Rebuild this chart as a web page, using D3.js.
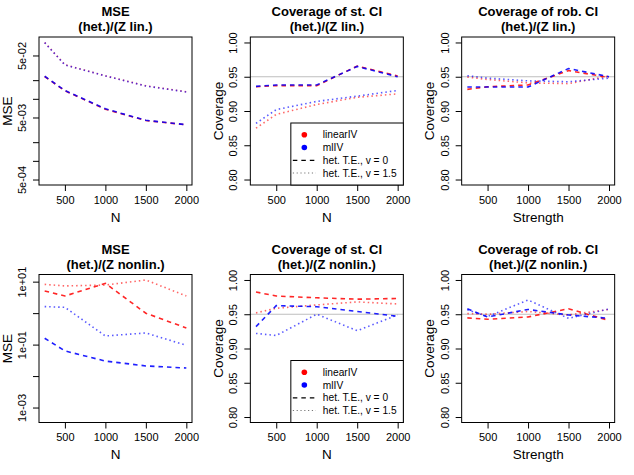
<!DOCTYPE html>
<html><head><meta charset="utf-8">
<script src="https://cdn.jsdelivr.net/npm/d3@7"></script>
<style>body{margin:0;background:#fff}svg{display:block}text{font-family:"Liberation Sans",Arial,sans-serif}</style>
</head><body><svg id="c" width="634" height="475"></svg>
<script>
const N = [250, 500, 1000, 1500, 2000];
const xTicks = [500, 1000, 1500, 2000];
const seriesNames = ["linearIV", "mlIV"];
const legendLabels = ["linearIV", "mlIV", "het. T.E., v = 0", "het. T.E., v = 1.5"];

// Panel 1: MSE, Z lin.
const mseLin_lin_v0  = [0.0229, 0.0135, 0.0068, 0.00447, 0.00381];
const mseLin_lin_v15 = [0.081, 0.0354, 0.0235, 0.0162, 0.013];
const mseLin_ml_v0   = [0.0231, 0.0136, 0.0069, 0.00450, 0.00383];
const mseLin_ml_v15  = [0.0805, 0.0352, 0.0234, 0.0161, 0.0129];
// Panel 2: coverage st. CI, Z lin.
const stLin_lin_v0  = [0.9354, 0.937, 0.937, 0.9656, 0.951];
const stLin_lin_v15 = [0.875, 0.895, 0.9095, 0.920, 0.925];
const stLin_ml_v0   = [0.936, 0.938, 0.938, 0.965, 0.950];
const stLin_ml_v15  = [0.882, 0.902, 0.914, 0.9217, 0.930];
// Panel 3: coverage rob. CI, Z lin.
const robLin_lin_v0  = [0.9315, 0.9354, 0.938, 0.959, 0.949];
const robLin_lin_v15 = [0.9495, 0.946, 0.941, 0.940, 0.951];
const robLin_ml_v0   = [0.935, 0.935, 0.935, 0.962, 0.950];
const robLin_ml_v15  = [0.9515, 0.948, 0.944, 0.9427, 0.948];
// Panel 4: MSE, Z nonlin.
const mseNon_lin_v0  = [5.06, 3.5, 8.85, 0.99, 0.339];
const mseNon_lin_v15 = [8.2, 7.3, 7.8, 11.3, 3.5];
const mseNon_ml_v0   = [0.159, 0.063, 0.030, 0.021, 0.018];
const mseNon_ml_v15  = [1.61, 1.53, 0.188, 0.234, 0.095];
// Panel 5: coverage st. CI, Z nonlin.
const stNon_lin_v0  = [0.9824, 0.9766, 0.974, 0.972, 0.973];
const stNon_lin_v15 = [0.952, 0.9587, 0.9636, 0.968, 0.965];
const stNon_ml_v0   = [0.932, 0.9626, 0.961, 0.954, 0.947];
const stNon_ml_v15  = [0.922, 0.919, 0.950, 0.926, 0.949];
// Panel 6: coverage rob. CI, Z nonlin.
const robNon_lin_v0  = [0.9447, 0.9427, 0.946, 0.958, 0.941];
const robNon_lin_v15 = [0.951, 0.950, 0.954, 0.949, 0.957];
const robNon_ml_v0   = [0.958, 0.946, 0.957, 0.949, 0.944];
const robNon_ml_v15  = [0.9565, 0.9466, 0.9708, 0.944, 0.9577];

const covTicks = [0.80, 0.85, 0.90, 0.95, 1.00];
const mseLinTicks = [5e-2, 2e-2, 1e-2, 5e-3, 2e-3, 1e-3, 5e-4];
const mseLinLabels = ["5e-02", "", "", "5e-03", "", "", "5e-04"];
const mseNonTicks = [1e1, 1, 1e-1, 1e-2, 1e-3];
const mseNonLabels = ["1e+01", "", "1e-01", "", "1e-03"];

const panels = [
  {t1:"MSE", t2:"(het.)/(Z lin.)", xl:"N", yl:"MSE", log:true, lo:5e-4,
   s:[mseLin_lin_v0, mseLin_lin_v15, mseLin_ml_v0, mseLin_ml_v15], yt:mseLinTicks, ytl:mseLinLabels},
  {t1:"Coverage of st. CI", t2:"(het.)/(Z lin.)", xl:"N", yl:"Coverage", legend:true,
   s:[stLin_lin_v0, stLin_lin_v15, stLin_ml_v0, stLin_ml_v15]},
  {t1:"Coverage of rob. CI", t2:"(het.)/(Z lin.)", xl:"Strength", yl:"Coverage",
   s:[robLin_lin_v0, robLin_lin_v15, robLin_ml_v0, robLin_ml_v15]},
  {t1:"MSE", t2:"(het.)/(Z nonlin.)", xl:"N", yl:"MSE", log:true, lo:5e-4,
   s:[mseNon_lin_v0, mseNon_lin_v15, mseNon_ml_v0, mseNon_ml_v15], yt:mseNonTicks, ytl:mseNonLabels},
  {t1:"Coverage of st. CI", t2:"(het.)/(Z nonlin.)", xl:"N", yl:"Coverage", legend:true,
   s:[stNon_lin_v0, stNon_lin_v15, stNon_ml_v0, stNon_ml_v15]},
  {t1:"Coverage of rob. CI", t2:"(het.)/(Z nonlin.)", xl:"Strength", yl:"Coverage",
   s:[robNon_lin_v0, robNon_lin_v15, robNon_ml_v0, robNon_ml_v15]}
];

const colors = ["rgba(255,0,0,0.85)", "rgba(255,0,0,0.6)", "rgba(0,0,255,0.88)", "rgba(0,0,255,0.65)"];
const dashes = ["4.5,4", "1.5,3", "4.5,4", "1.5,3"];

const svg = d3.select("#c");
const colW = 634/3, rowH = 237.5;

panels.forEach((p, i) => {
  const ox = (i % 3) * colW, oy = Math.floor(i / 3) * rowH;
  const L = ox + 39, R = ox + 192, T = oy + 37, B = oy + 185;
  const g = svg.append("g");
  const xr = 2000 - 250;
  const x = d3.scaleLinear().domain([250 - 0.04*xr, 2000 + 0.04*xr]).range([L, R]);
  let y;
  if (p.log) {
    const hi = d3.max(p.s.flat());
    const l0 = Math.log10(p.lo), l1 = Math.log10(hi), e = 0.04*(l1-l0);
    y = d3.scaleLog().domain([Math.pow(10, l0-e), Math.pow(10, l1+e)]).range([B, T]);
  } else {
    y = d3.scaleLinear().domain([0.8 - 0.008, 1.0 + 0.008]).range([B, T]);
  }
  if (!p.log) {
    g.append("line").attr("x1", L).attr("x2", R).attr("y1", y(0.95)).attr("y2", y(0.95))
      .attr("stroke", "#bebebe").attr("stroke-width", 1.2);
  }
  const line = d3.line().x((d, k) => x(N[k])).y(d => y(d));
  p.s.forEach((arr, k) => {
    g.append("path").attr("d", line(arr)).attr("fill", "none")
      .attr("stroke", colors[k]).attr("stroke-width", 1.6)
      .attr("stroke-dasharray", dashes[k]);
  });
  g.append("rect").attr("x", L).attr("y", T).attr("width", R-L).attr("height", B-T)
    .attr("fill", "none").attr("stroke", "#000").attr("stroke-width", 1);
  const xa = g.append("g").attr("transform", `translate(0,${B})`)
    .call(d3.axisBottom(x).tickValues(xTicks).tickSize(6).tickPadding(5).tickFormat(d3.format("d")));
  xa.select(".domain").remove();
  xa.selectAll("text").attr("font-size", 11).attr("fill", "#000").attr("font-family", "Liberation Sans");
  const yt = p.log ? p.yt : covTicks;
  const ytl = p.log ? p.ytl : covTicks.map(d3.format(".2f"));
  const ya = g.append("g").attr("transform", `translate(${L},0)`)
    .call(d3.axisLeft(y).tickValues(yt).tickSize(6).tickFormat((d, k) => ytl[k]));
  ya.select(".domain").remove();
  ya.selectAll("text").attr("font-size", 11).attr("fill", "#000").attr("font-family", "Liberation Sans")
    .attr("text-anchor", "middle").attr("dy", null)
    .attr("transform", `translate(-17,0) rotate(-90)`).attr("x", 0).attr("y", 0)
    .attr("dominant-baseline", "central");
  const cx = (L + R) / 2;
  g.append("text").attr("x", cx).attr("y", oy + 16).attr("text-anchor", "middle")
    .attr("font-size", 13).attr("font-weight", "bold").text(p.t1);
  g.append("text").attr("x", cx).attr("y", oy + 31).attr("text-anchor", "middle")
    .attr("font-size", 13).attr("font-weight", "bold").text(p.t2);
  g.append("text").attr("x", cx).attr("y", oy + 221.5).attr("text-anchor", "middle")
    .attr("font-size", 13.5).text(p.xl);
  g.append("text").attr("transform", `translate(${ox + 11.5},${(T+B)/2}) rotate(-90)`)
    .attr("text-anchor", "middle").attr("font-size", 13.5).text(p.yl);
  if (p.legend) {
    const lw = 112.5, lh = 62;
    const lx = R - lw, ly = B - lh;
    g.append("rect").attr("x", lx).attr("y", ly).attr("width", lw).attr("height", lh)
      .attr("fill", "#fff").attr("stroke", "#000").attr("stroke-width", 1);
    const rows = [ly + 11.7, ly + 24.5, ly + 37.3, ly + 50];
    legendLabels.forEach((lab, k) => {
      if (k < 2) {
        g.append("circle").attr("cx", lx + 13.5).attr("cy", rows[k]).attr("r", 2.8)
          .attr("fill", k === 0 ? "#ff0000" : "#0000ff");
      } else {
        g.append("line").attr("x1", lx + 2).attr("x2", lx + 25).attr("y1", rows[k]).attr("y2", rows[k])
          .attr("stroke", k === 2 ? "#000" : "#777").attr("stroke-width", 1.2)
          .attr("stroke-dasharray", k === 2 ? "4.5,4" : "1.2,2.6");
      }
      g.append("text").attr("x", lx + 32).attr("y", rows[k] + 3.6).attr("font-size", 10.2).text(lab);
    });
  }
});
</script></body></html>
